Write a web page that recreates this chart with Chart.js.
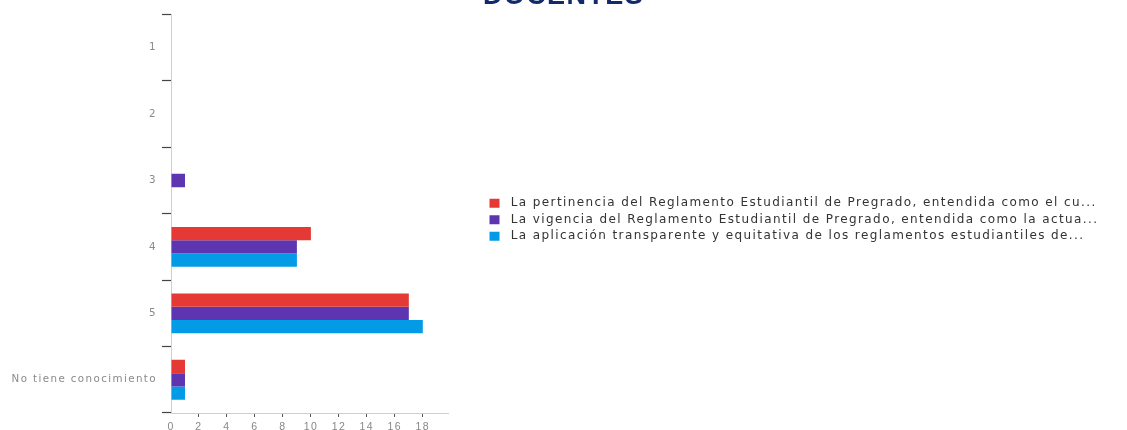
<!DOCTYPE html>
<html>
<head>
<meta charset="utf-8">
<script src="https://cdn.jsdelivr.net/npm/chart.js@4/dist/chart.umd.min.js"></script>
<style>
  html, body { margin: 0; padding: 0; background: #fff; }
  #frame { position: relative; width: 1127px; height: 430px; overflow: hidden; }
  #wrap { position: absolute; left: 0; top: -40px; width: 1127px; height: 470px; }
</style>
</head>
<body>
<div id="frame">
  <div id="wrap"><canvas id="chart"></canvas></div>
</div>
<script>
const categories = ['1', '2', '3', '4', '5', 'No tiene conocimiento'];
const pertinencia = [0, 0, 0, 10, 17, 1];
const vigencia    = [0, 0, 1, 9, 17, 1];
const aplicacion  = [0, 0, 0, 9, 18, 1];
const seriesLabels = [
  ' La pertinencia del Reglamento Estudiantil de Pregrado, entendida como el cu...',
  ' La vigencia del Reglamento Estudiantil de Pregrado, entendida como la actua...',
  ' La aplicación transparente y equitativa de los reglamentos estudiantiles de...'
];
const xTicks = [0, 2, 4, 6, 8, 10, 12, 14, 16, 18];

const FONT = '"Liberation Sans", Arial, sans-serif';
const WIDE = '"DejaVu Sans", Verdana, sans-serif';
const LEGEND_W = 642;

// wide tracking like the original renderer
const tracking = {
  id: 'tracking',
  beforeLayout(chart) { chart.ctx.letterSpacing = '1.4px'; },
  beforeDraw(chart) { chart.ctx.letterSpacing = '1.4px'; }
};

// fixed legend slot on the right
const legendSlot = {
  id: 'legendSlot',
  afterInit(chart) {
    const lg = chart.legend;
    if (!lg) return;
    const fit = lg.fit.bind(lg);
    lg.fit = () => { fit(); lg.width = LEGEND_W; };
  }
};

new Chart(document.getElementById('chart'), {
  type: 'bar',
  data: {
    labels: categories,
    datasets: [
      { label: seriesLabels[0], data: pertinencia, backgroundColor: '#e53935' },
      { label: seriesLabels[1], data: vigencia,    backgroundColor: '#5e35b1' },
      { label: seriesLabels[2], data: aplicacion,  backgroundColor: '#039be5' }
    ]
  },
  options: {
    indexAxis: 'y',
    responsive: true,
    maintainAspectRatio: false,
    animation: false,
    layout: { padding: 0 },
    datasets: { bar: { categoryPercentage: 0.6, barPercentage: 1.0 } },
    scales: {
      x: {
        min: 0,
        max: 19.8,
        afterBuildTicks: s => { s.ticks = xTicks.map(v => ({ value: v })); },
        afterFit: s => { s.height = 17; },
        border: { color: '#cfcfcf', width: 1 },
        grid: {
          drawOnChartArea: false,
          tickLength: 4,
          tickColor: c => (c.tick && c.tick.value === 0) ? 'rgba(0,0,0,0)' : '#555'
        },
        ticks: { color: '#888', font: { family: FONT, size: 10.5 }, padding: 4, maxRotation: 0 }
      },
      y: {
        afterFit: s => { s.width = 171; },
        border: { color: '#cfcfcf', width: 1 },
        grid: { drawOnChartArea: false, tickLength: 9, tickColor: '#444', tickWidth: 1.2 },
        ticks: { color: '#8a8a8a', font: { family: WIDE, size: 10.3 }, padding: 5 }
      },
      gap: {
        type: 'linear',
        position: 'right',
        afterFit: s => { s.width = 37; },
        border: { display: false },
        grid: { display: false },
        ticks: { display: false }
      }
    },
    plugins: {
      title: {
        display: true,
        text: 'DOCENTES',
        color: '#12296b',
        font: { family: FONT, size: 27, weight: 'bold' },
        padding: { top: 20, bottom: 2 }
      },
      legend: {
        position: 'right',
        fullSize: false,
        title: { display: true, text: ' ', font: { size: 10 }, padding: 0 },
        labels: {
          boxWidth: 10,
          boxHeight: 9,
          padding: 4.5,
          color: '#333',
          font: { family: WIDE, size: 12 }
        }
      },
      tooltip: { enabled: false }
    }
  },
  plugins: [tracking, legendSlot]
});
</script>
</body>
</html>
